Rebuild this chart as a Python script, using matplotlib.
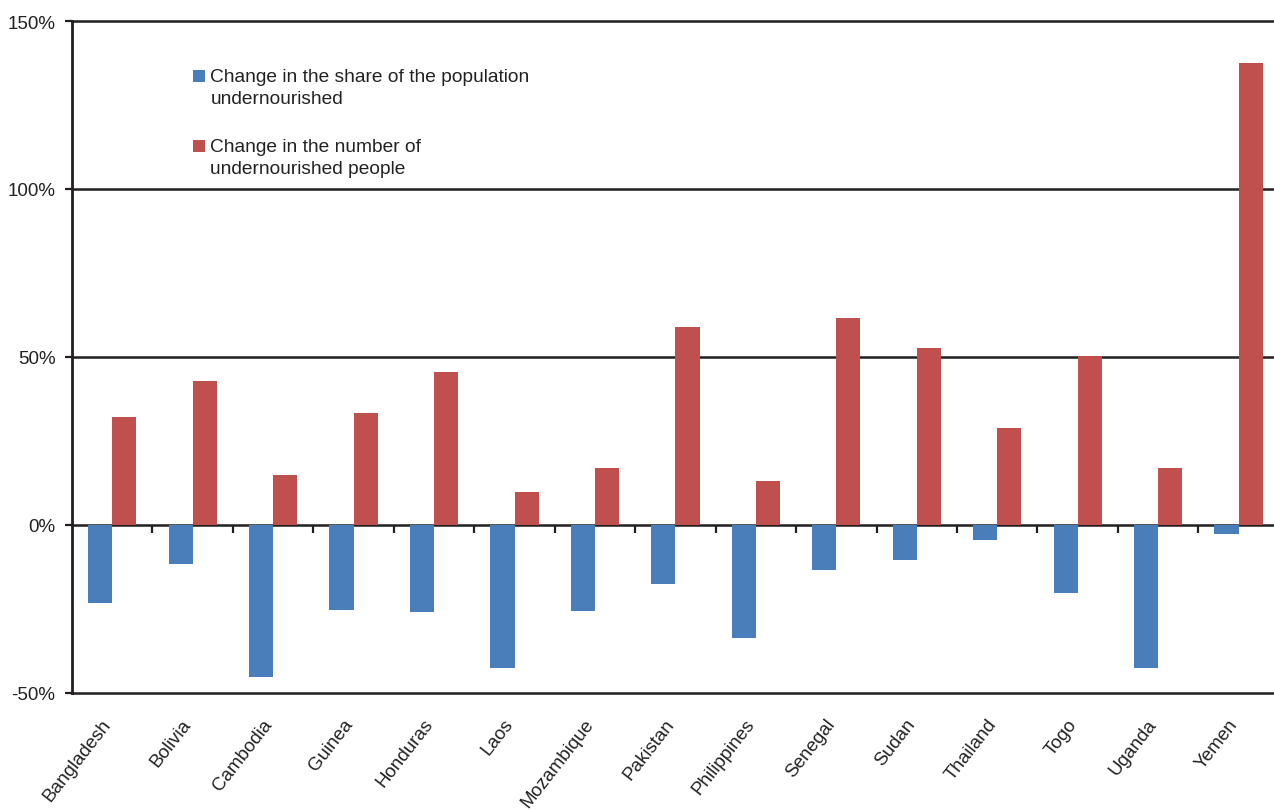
import matplotlib.pyplot as plt
import matplotlib.transforms as mtransforms
from matplotlib.container import BarContainer
from matplotlib.legend_handler import HandlerPatch
from matplotlib.patches import Rectangle
import numpy as np

countries = ["Bangladesh", "Bolivia", "Cambodia", "Guinea", "Honduras", "Laos",
             "Mozambique", "Pakistan", "Philippines", "Senegal", "Sudan",
             "Thailand", "Togo", "Uganda", "Yemen"]
share_change = [-23.2, -11.6, -45.2, -25.3, -25.9, -42.6, -25.6, -17.6,
                -33.6, -13.4, -10.4, -4.5, -20.2, -42.6, -2.7]
number_change = [32.1, 42.9, 14.9, 33.3, 45.5, 9.8, 17.0, 58.9,
                 13.1, 61.6, 52.7, 28.9, 50.3, 17.0, 137.5]
y_ticks = [-50, 0, 50, 100, 150]

blue = "#4A7EBB"
red = "#C0504D"
dark = "#231F20"

plt.rcParams["font.family"] = ["Liberation Sans", "DejaVu Sans"]

fig = plt.figure(figsize=(12.74, 8.12), dpi=100)
ax = fig.add_axes([72 / 1274, (812 - 694) / 812, 1 - 72 / 1274, (694 - 22) / 812])

x = np.arange(len(countries))
w = 0.3
ax.bar(x - w / 2, share_change, w, color=blue, zorder=3,
       label="Change in the share of the population\nundernourished")
ax.bar(x + w / 2, number_change, w, color=red, zorder=3,
       label="Change in the number of\nundernourished people")

ax.set_xlim(-0.5, 14.44)
ax.set_ylim(-50, 150)
ax.set_yticks(y_ticks)
ax.set_yticklabels([f"{v}%" for v in y_ticks])
for v in y_ticks:
    ax.axhline(v, color=dark, lw=1.8, zorder=2, clip_on=False)

for s in ["top", "right", "bottom"]:
    ax.spines[s].set_visible(False)
ax.spines["left"].set_color(dark)
ax.spines["left"].set_linewidth(2)
ax.tick_params(axis="y", length=5, width=1.6, color=dark, labelsize=13.5,
               labelcolor="#222222", pad=7)

ax.set_xticks(x)
ax.set_xticklabels(countries, rotation=52, ha="right", rotation_mode="anchor")
ax.tick_params(axis="x", length=0, pad=16, labelsize=13.5, labelcolor="#222222")
shift = mtransforms.ScaledTranslation(-11 / 100, 0, fig.dpi_scale_trans)
for lab in ax.get_xticklabels():
    lab.set_transform(lab.get_transform() + shift)

# category boundary ticks on the zero line
sec = ax.secondary_xaxis(0.25)
sec.set_xticks(np.arange(0.5, len(countries) - 0.5, 1))
sec.set_xticklabels([])
sec.tick_params(length=6, width=1.6, color=dark, direction="out")
sec.spines["bottom"].set_visible(False)


# legend square sits on the first text line
def square_top(legend, orig_handle, xdescent, ydescent, width, height, fontsize):
    return Rectangle((-xdescent, -ydescent + 8), width, height)


def first_child(legend_handle, orig_handle):
    legend_handle.update_from(orig_handle.patches[0])


leg = ax.legend(loc="upper left", bbox_to_anchor=(176 / 1274, 1 - 52 / 812),
                bbox_transform=fig.transFigure, frameon=False, fontsize=13.8,
                handlelength=0.6, handleheight=0.6, handletextpad=0.3,
                labelspacing=1.65, labelcolor="#222222",
                handler_map={BarContainer: HandlerPatch(patch_func=square_top,
                                                        update_func=first_child)})
for t in leg.get_texts():
    t.set_linespacing(1.35)

fig.savefig("out.png", dpi=100)
